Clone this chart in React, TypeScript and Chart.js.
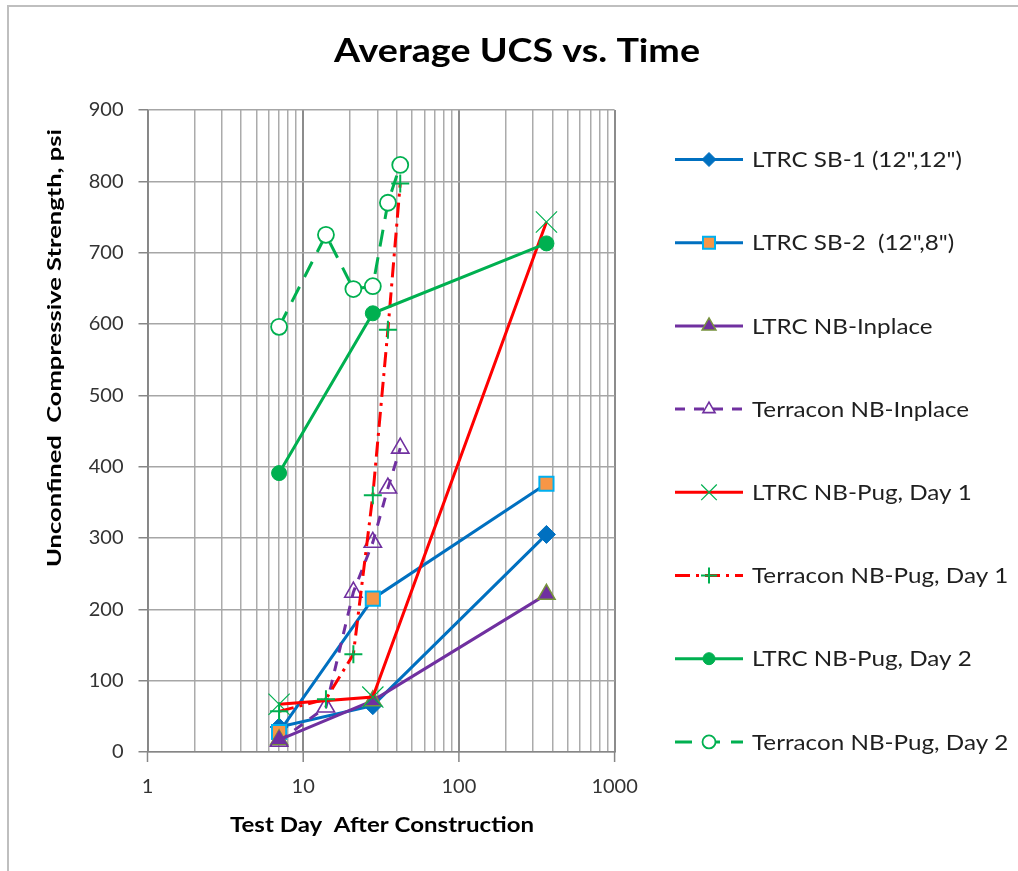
import React, { useEffect, useRef } from 'react';
import { Chart, registerables } from 'chart.js';
import { drawPoint } from 'chart.js/helpers';

Chart.register(...registerables);

// ---------- data ----------
const ltrcDays = [7, 28, 365];
const terraconDays = [7, 14, 21, 28, 35, 42];

const sb1 = [35, 65, 305];
const sb2 = [28, 215, 376];
const nbInplace = [17, 72, 221];
const terraconInplace = [15, 63, 224, 294, 370, 426];
const nbPugDay1 = [67, 77, 743];
const terraconPugDay1 = [57, 74, 137, 360, 592, 797];
const nbPugDay2 = [391, 615, 713];
const terraconPugDay2 = [596, 725, 649, 653, 770, 823];

const seriesNames = [
  'LTRC SB-1 (12",12")',
  'LTRC SB-2  (12",8")',
  'LTRC NB-Inplace',
  'Terracon NB-Inplace',
  'LTRC NB-Pug, Day 1',
  'Terracon NB-Pug, Day 1',
  'LTRC NB-Pug, Day 2',
  'Terracon NB-Pug, Day 2',
];

const xDecades = [1, 10, 100, 1000];
const xTickLabels = ['1', '10', '100', '1000'];

const chartTitle = 'Average UCS vs. Time';
const xTitle = 'Test Day  After Construction';
const yTitle = 'Unconfined  Compressive Strength, psi';

// ---------- styles ----------
const BLUE = '#0070C0';
const PURPLE = '#7030A0';
const RED = '#FF0000';
const GREEN = '#00B050';

const styles = [
  { line: BLUE, dash: [], style: 'rectRot', r: 9, lr: 7, fill: BLUE, border: BLUE, bw: 1 },
  { line: BLUE, dash: [], style: 'rect', r: 10, lr: 8.5, fill: '#F79646', border: '#00B0F0', bw: 2 },
  { line: PURPLE, dash: [], style: 'triangle', r: 10, lr: 8, fill: PURPLE, border: '#77933C', bw: 1.5 },
  { line: PURPLE, dash: [10, 9], style: 'triangle', r: 10, lr: 7, fill: 'rgba(255,255,255,0)', border: PURPLE, bw: 1.6 },
  { line: RED, dash: [], style: 'crossRot', r: 15, lr: 11, fill: GREEN, border: GREEN, bw: 1.2 },
  { line: RED, dash: [15, 6, 3, 6], style: 'cross', r: 9, lr: 8, fill: GREEN, border: GREEN, bw: 2 },
  { line: GREEN, dash: [], style: 'circle', r: 7.5, lr: 6, fill: GREEN, border: GREEN, bw: 1 },
  { line: GREEN, dash: [17, 11], style: 'circle', r: 8, lr: 6.5, fill: '#FFFFFF', border: GREEN, bw: 1.8 },
];

const seriesX = [ltrcDays, ltrcDays, ltrcDays, terraconDays, ltrcDays, terraconDays, ltrcDays, terraconDays];
const seriesY = [sb1, sb2, nbInplace, terraconInplace, nbPugDay1, terraconPugDay1, nbPugDay2, terraconPugDay2];

const FONT = 'Lato, "Open Sans", sans-serif';

function fitText(
  ctx: CanvasRenderingContext2D,
  text: string,
  x: number,
  y: number,
  font: string,
  width: number,
  align: CanvasTextAlign,
  color: string,
  rotate = 0
) {
  ctx.save();
  ctx.font = font;
  const m = ctx.measureText(text).width;
  ctx.translate(x, y);
  if (rotate) ctx.rotate(rotate);
  ctx.scale(width / m, 1);
  ctx.textAlign = align;
  ctx.textBaseline = 'middle';
  ctx.fillStyle = color;
  ctx.fillText(text, 0, 0);
  ctx.restore();
}

const decorPlugin = {
  id: 'decor',
  beforeDraw(chart: any) {
    const ctx = chart.ctx as CanvasRenderingContext2D;
    ctx.save();
    ctx.fillStyle = '#FFFFFF';
    ctx.fillRect(0, 0, chart.width, chart.height);
    ctx.restore();
  },
  afterDraw(chart: any) {
    const ctx = chart.ctx as CanvasRenderingContext2D;
    const xs = chart.scales.x;
    const area = chart.chartArea;

    // outer frame (top + left visible)
    ctx.save();
    ctx.strokeStyle = '#BFBFBF';
    ctx.lineWidth = 2;
    ctx.beginPath();
    ctx.moveTo(8, chart.height);
    ctx.lineTo(8, 6);
    ctx.lineTo(chart.width, 6);
    ctx.stroke();
    ctx.restore();

    // decade tick marks below x axis
    ctx.save();
    ctx.strokeStyle = '#868686';
    ctx.lineWidth = 1.5;
    xDecades.forEach((d) => {
      const px = xs.getPixelForValue(d);
      ctx.beginPath();
      ctx.moveTo(px, area.bottom);
      ctx.lineTo(px, area.bottom + 10);
      ctx.stroke();
    });
    ctx.restore();

    // titles
    fitText(ctx, chartTitle, 517, 52, `bold 32px ${FONT}`, 366, 'center', '#000000');
    fitText(ctx, xTitle, 382, 826, `bold 20px ${FONT}`, 304, 'center', '#000000');
    fitText(ctx, yTitle, 55, 348, `bold 19px ${FONT}`, 438, 'center', '#000000', -Math.PI / 2);

    // legend
    ctx.save();
    ctx.font = `21px ${FONT}`;
    const sx = 210 / ctx.measureText(seriesNames[0]).width;
    ctx.restore();
    seriesNames.forEach((name, i) => {
      const st = styles[i];
      const y = 159.5 + i * 83.2;
      ctx.save();
      ctx.strokeStyle = st.line;
      ctx.lineWidth = 3;
      ctx.setLineDash(st.dash);
      ctx.beginPath();
      ctx.moveTo(675, y);
      ctx.lineTo(743, y);
      ctx.stroke();
      ctx.setLineDash([]);
      ctx.fillStyle = st.fill;
      ctx.strokeStyle = st.border;
      ctx.lineWidth = st.bw;
      drawPoint(ctx, { pointStyle: st.style, radius: st.lr, rotation: 0, borderWidth: st.bw } as any, 709, y);
      ctx.restore();

      ctx.save();
      ctx.font = `21px ${FONT}`;
      ctx.translate(752, y + 1);
      ctx.scale(sx, 1);
      ctx.textAlign = 'left';
      ctx.textBaseline = 'middle';
      ctx.fillStyle = '#1F1F1F';
      ctx.fillText(name, 0, 0);
      ctx.restore();
    });
  },
};

const xGridValues: number[] = [];
for (const d of [1, 10, 100]) for (let k = 1; k < 10; k++) xGridValues.push(d * k);
xGridValues.push(1000);

export default function App() {
  const ref = useRef<HTMLCanvasElement | null>(null);

  useEffect(() => {
    if (!ref.current) return;
    const datasets = seriesNames.map((name, i) => {
      const st = styles[i];
      return {
        label: name,
        data: seriesX[i].map((d, j) => ({ x: d, y: seriesY[i][j] })),
        borderColor: st.line,
        borderWidth: 3,
        borderDash: st.dash,
        backgroundColor: st.fill,
        pointStyle: st.style,
        pointRadius: st.r,
        pointBackgroundColor: st.fill,
        pointBorderColor: st.border,
        pointBorderWidth: st.bw,
        fill: false,
        tension: 0,
        order: 20 - i,
      };
    });

    const chart = new Chart(ref.current, {
      type: 'line',
      data: { datasets } as any,
      options: {
        animation: false,
        responsive: false,
        devicePixelRatio: 1,
        layout: { padding: { top: 110, right: 403.4, left: 0, bottom: 0 } },
        plugins: {
          legend: { display: false },
          title: { display: false },
          tooltip: { enabled: false },
        },
        scales: {
          x: {
            type: 'logarithmic',
            min: 1,
            max: 1000,
            afterBuildTicks: (scale: any) => {
              scale.ticks = xGridValues.map((v) => ({ value: v, major: xDecades.includes(v) }));
            },
            afterFit: (scale: any) => {
              scale.height = 119;
            },
            ticks: {
              autoSkip: false,
              maxRotation: 0,
              padding: 23,
              color: '#333333',
              font: { family: FONT, size: 20 },
              callback: (value: any) => {
                const idx = xDecades.indexOf(Number(value));
                return idx >= 0 ? xTickLabels[idx] : '';
              },
            },
            grid: {
              drawTicks: false,
              color: (c: any) => {
                const v = c.tick ? c.tick.value : 0;
                return xDecades.includes(v) ? '#8C8C8C' : '#ABABAB';
              },
              lineWidth: (c: any) => {
                const v = c.tick ? c.tick.value : 0;
                return xDecades.includes(v) ? 2 : 1.5;
              },
            },
            border: { display: true, color: '#868686', width: 1.5 },
          },
          y: {
            type: 'linear',
            min: 0,
            max: 900,
            afterFit: (scale: any) => {
              scale.width = 147.5;
            },
            ticks: {
              stepSize: 100,
              padding: 15,
              color: '#333333',
              font: { family: FONT, size: 20 },
            },
            grid: {
              color: '#A6A6A6',
              lineWidth: 1.5,
              drawTicks: true,
              tickLength: 9,
              tickColor: '#868686',
            },
            border: { display: true, color: '#868686', width: 1.5 },
          },
        },
      } as any,
      plugins: [decorPlugin],
    });
    return () => chart.destroy();
  }, []);

  return (
    <div style={{ position: 'absolute', left: 0, top: 0, width: 1018, height: 871, background: '#fff' }}>
      <canvas ref={ref} width={1018} height={871} style={{ display: 'block' }} />
    </div>
  );
}
